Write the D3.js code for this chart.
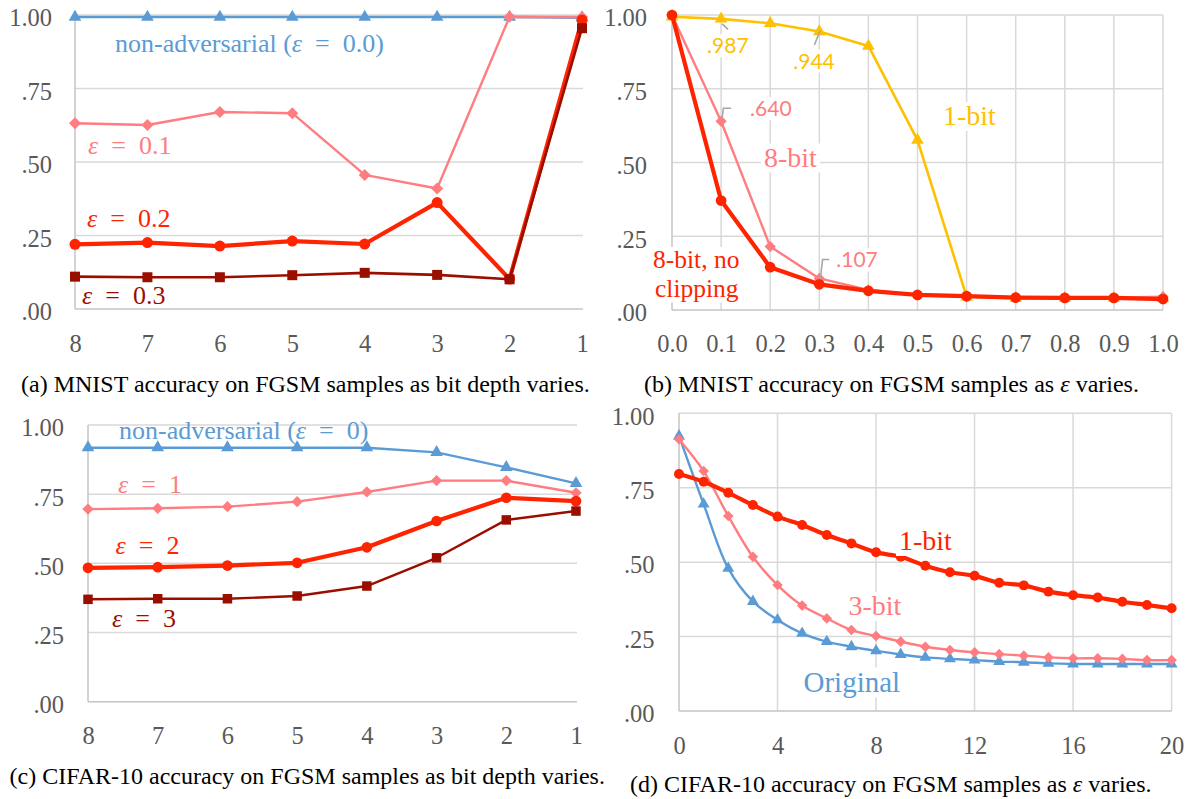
<!DOCTYPE html>
<html><head><meta charset="utf-8">
<script src="https://cdn.jsdelivr.net/npm/d3@7"></script>
<style>body{margin:0;background:#fff}svg{display:block}</style>
</head><body>
<svg id="chart" width="1188" height="799"></svg>
<script>
// ---------- DATA ----------
const bitDepths = [8, 7, 6, 5, 4, 3, 2, 1];
const yTickValues = [0, 0.25, 0.5, 0.75, 1];

// (a) MNIST, bit depth varies
const mnistBitNonAdv = [0.993, 0.993, 0.993, 0.993, 0.993, 0.993, 0.993, 0.991];
const mnistBitEps01  = [0.632, 0.626, 0.670, 0.666, 0.456, 0.410, 0.994, 0.993];
const mnistBitEps02  = [0.220, 0.226, 0.214, 0.231, 0.221, 0.362, 0.102, 0.983];
const mnistBitEps03  = [0.110, 0.108, 0.108, 0.115, 0.123, 0.116, 0.101, 0.955];

// (b) MNIST, epsilon varies
const mnistEps = [0.0, 0.1, 0.2, 0.3, 0.4, 0.5, 0.6, 0.7, 0.8, 0.9, 1.0];
const mnistEps1bit   = [0.994, 0.987, 0.972, 0.944, 0.895, 0.576, 0.045, 0.040, 0.040, 0.040, 0.040];
const mnistEps8bit   = [1.000, 0.640, 0.215, 0.107, 0.068, 0.050, 0.045, 0.043, 0.042, 0.042, 0.045];
const mnistEpsNoClip = [1.000, 0.371, 0.145, 0.087, 0.065, 0.051, 0.047, 0.042, 0.041, 0.041, 0.037];

// (c) CIFAR-10, bit depth varies
const cifarBitNonAdv = [0.918, 0.918, 0.918, 0.918, 0.918, 0.901, 0.847, 0.789];
const cifarBitEps1   = [0.696, 0.699, 0.705, 0.723, 0.758, 0.799, 0.799, 0.755];
const cifarBitEps2   = [0.484, 0.486, 0.492, 0.502, 0.558, 0.653, 0.737, 0.725];
const cifarBitEps3   = [0.370, 0.372, 0.372, 0.382, 0.418, 0.520, 0.657, 0.689];

// (d) CIFAR-10, epsilon varies
const cifarEps = [0,1,2,3,4,5,6,7,8,9,10,11,12,13,14,15,16,17,18,19,20];
const cifarEps1bit = [0.796,0.770,0.733,0.692,0.653,0.625,0.591,0.563,0.533,0.518,0.488,0.466,0.454,0.431,0.422,0.401,0.389,0.381,0.367,0.356,0.345];
const cifarEps3bit = [0.913,0.806,0.655,0.518,0.423,0.354,0.311,0.272,0.252,0.233,0.216,0.205,0.197,0.191,0.186,0.180,0.177,0.177,0.175,0.171,0.171];
const cifarEpsOrig = [0.924,0.695,0.479,0.368,0.306,0.261,0.233,0.216,0.202,0.190,0.180,0.175,0.171,0.166,0.164,0.160,0.158,0.158,0.158,0.158,0.158];

const mnistEpsTicks = mnistEps;
const cifarEpsTicks = [0, 4, 8, 12, 16, 20];

// ---------- STYLE ----------
const BLUE = "#5B9BD5", PINK = "#FF7C80", RED = "#FF2400", DARK = "#9A0E00", GOLD = "#FFC000";
const GRID = "#D9D9D9", AXIS = "#C4C4C4", TICK = "#595959";
const SERIF = "'Liberation Serif','Times New Roman',serif";
const SANS = "Lato,'Open Sans',sans-serif";
const EQ = "\u2002=\u2002";

const svg = d3.select("#chart");
const yFmt = d => d === 1 ? "1.00" : d3.format(".2f")(d).slice(1);

function symbolPath(kind, size) {
  const t = {tri: d3.symbolTriangle, circle: d3.symbolCircle, square: d3.symbolSquare, diamond: d3.symbolSquare}[kind];
  return d3.symbol(t, size)();
}

// lines: array of lines; each line is array of {t, i}
function addText(g, x, y, lines, o) {
  const t = g.append("text").attr("x", x).attr("y", y)
    .attr("font-family", o.family || SERIF).attr("font-size", o.size).attr("fill", o.fill);
  lines.forEach((parts, li) => {
    parts.forEach((p, pi) => {
      const s = t.append("tspan").text(p.t);
      if (pi === 0 && li > 0) s.attr("x", x + (o.lineDx || 0)).attr("dy", o.lineH);
      if (p.i) s.attr("font-style", "italic");
    });
  });
  if (o.bg) {
    const b = t.node().getBBox();
    g.insert("rect", () => t.node())
      .attr("x", b.x - 3).attr("y", b.y + 2).attr("width", b.width + 6).attr("height", b.height - 2)
      .attr("fill", "#fff");
  }
  return t;
}

function drawPanel(cfg) {
  const g = svg.append("g");
  const {x, y} = cfg;
  const xr = cfg.xPix;
  g.append("g").selectAll("line").data(yTickValues.filter(d => d > 0)).join("line")
    .attr("x1", xr[0]).attr("x2", xr[1]).attr("y1", d => y(d)).attr("y2", d => y(d))
    .attr("stroke", GRID).attr("stroke-width", 1.5);
  if (cfg.vTicks) {
    g.append("g").selectAll("line").data(cfg.vTicks.slice(1)).join("line")
      .attr("x1", d => x(d)).attr("x2", d => x(d)).attr("y1", y(0)).attr("y2", y(1))
      .attr("stroke", GRID).attr("stroke-width", 1.5);
  }
  g.append("line").attr("x1", xr[0]).attr("x2", xr[1]).attr("y1", y(0)).attr("y2", y(0))
    .attr("stroke", AXIS).attr("stroke-width", 1.5);
  g.append("line").attr("x1", xr[0]).attr("x2", xr[0]).attr("y1", y(0)).attr("y2", y(1))
    .attr("stroke", AXIS).attr("stroke-width", 1.5);

  const yg = g.append("g").attr("transform", `translate(${cfg.yLabelX},0)`)
    .call(d3.axisLeft(y).tickValues(yTickValues).tickFormat(yFmt).tickSize(0).tickPadding(0));
  yg.select(".domain").remove();
  yg.attr("font-family", SERIF).attr("font-size", 24.5);
  yg.selectAll("text").attr("fill", TICK).attr("dy", "0.32em").attr("y", 3);

  const xa = (cfg.vTicks ? d3.axisBottom(x).tickValues(cfg.xTickValues) : d3.axisBottom(x))
    .tickFormat(cfg.xFmt).tickSize(0).tickPadding(0);
  const xg = g.append("g").attr("transform", `translate(0,${cfg.xLabelY})`).call(xa);
  xg.select(".domain").remove();
  xg.attr("font-family", SERIF).attr("font-size", 24.5);
  xg.selectAll("text").attr("fill", TICK).attr("dy", 0).attr("y", 0);

  cfg.series.forEach(s => {
    const pts = cfg.xs.map((xv, i) => ({x: xv, v: s.values[i]}));
    const line = d3.line().x(d => x(d.x)).y(d => y(d.v));
    if (cfg.curve) line.curve(cfg.curve);
    g.append("path").datum(pts).attr("d", line).attr("fill", "none")
      .attr("stroke", s.color).attr("stroke-width", s.width).attr("stroke-linejoin", "round");
    g.append("g").selectAll("path").data(pts).join("path")
      .attr("d", symbolPath(s.marker, s.size))
      .attr("transform", d => `translate(${x(d.x)},${y(d.v)})` + (s.marker === "diamond" ? " rotate(45)" : ""))
      .attr("fill", s.color);
  });

  const lg = g.append("g");
  cfg.labels.forEach(l => addText(lg, l.x, l.y, l.lines, l));
  if (cfg.after) cfg.after(g, x, y);

  addText(g, cfg.caption.x, cfg.caption.y, [cfg.caption.parts], {size: 24, fill: "#000"});
}

// ---------- PANEL (a) ----------
{
  const x = d3.scalePoint().domain(bitDepths).range([75, 582]);
  const y = d3.scaleLinear().domain([0, 1]).range([309, 15]);
  drawPanel({
    x, y, xPix: [75, 583], xs: bitDepths, xFmt: d => d, yLabelX: 52, xLabelY: 351.5,
    series: [
      {values: mnistBitNonAdv, color: BLUE, width: 2.6, marker: "tri", size: 70},
      {values: mnistBitEps01, color: PINK, width: 2.4, marker: "diamond", size: 72},
      {values: mnistBitEps02, color: RED, width: 4.2, marker: "circle", size: 95},
      {values: mnistBitEps03, color: DARK, width: 2.6, marker: "square", size: 100}
    ],
    labels: [
      {x: 115, y: 52, size: 26, fill: BLUE, lines: [[{t: "non-adversarial ("}, {t: "ε", i: 1}, {t: EQ + "0.0)"}]]},
      {x: 88, y: 154, size: 26, fill: PINK, lines: [[{t: "ε", i: 1}, {t: EQ + "0.1"}]]},
      {x: 87, y: 226.5, size: 26, fill: RED, lines: [[{t: "ε", i: 1}, {t: EQ + "0.2"}]]},
      {x: 82, y: 304, size: 26, fill: DARK, lines: [[{t: "ε", i: 1}, {t: EQ + "0.3"}]]}
    ],
    caption: {x: 21, y: 391.5, parts: [{t: "(a) MNIST accuracy on FGSM samples as bit depth varies."}]}
  });
}

// ---------- PANEL (b) ----------
{
  const x = d3.scaleLinear().domain([0, 1]).range([672, 1163]);
  const y = d3.scaleLinear().domain([0, 1]).range([310, 15]);
  drawPanel({
    x, y, xPix: [672, 1163], xs: mnistEps, vTicks: mnistEpsTicks, xTickValues: mnistEpsTicks,
    xFmt: d3.format(".1f"), yLabelX: 647, xLabelY: 351.5,
    series: [
      {values: mnistEps1bit, color: GOLD, width: 2.6, marker: "tri", size: 70},
      {values: mnistEps8bit, color: PINK, width: 2.4, marker: "diamond", size: 64},
      {values: mnistEpsNoClip, color: RED, width: 4.2, marker: "circle", size: 90}
    ],
    labels: [
      {x: 943, y: 125, size: 28, fill: GOLD, bg: 1, lines: [[{t: "1-bit"}]]},
      {x: 764, y: 166.5, size: 28, fill: PINK, bg: 1, lines: [[{t: "8-bit"}]]},
      {x: 653, y: 268, size: 25.5, fill: RED, bg: 1, lineH: 28.5, lineDx: 2, lines: [[{t: "8-bit, no"}], [{t: "clipping"}]]}
    ],
    after: (g, x, y) => {
      const ann = [
        {xv: mnistEps[1], v: mnistEps1bit[1], color: GOLD, dx: -14, dy: 34.5, lead: [[1, 5], [7, 10.5]]},
        {xv: mnistEps[3], v: mnistEps1bit[3], color: GOLD, dx: -26, dy: 37, lead: [[1, -1], [-5, 13.5]]},
        {xv: mnistEps[1], v: mnistEps8bit[1], color: PINK, dx: 29, dy: -5, lead: [[1, -3], [2.3, -13], [10, -13]]},
        {xv: mnistEps[3], v: mnistEps8bit[3], color: PINK, dx: 17, dy: -11, lead: [[1, 1], [3.3, -19], [10, -19]]}
      ];
      ann.forEach(a => {
        const px = x(a.xv), py = y(a.v);
        g.append("path").attr("d", d3.line()(a.lead.map(p => [px + p[0], py + p[1]])))
          .attr("fill", "none").attr("stroke", "#A6A6A6").attr("stroke-width", 1.6);
        addText(g, px + a.dx, py + a.dy, [[{t: d3.format(".3f")(a.v).slice(1)}]],
          {size: 21, fill: a.color, family: SANS, bg: 1});
      });
    },
    caption: {x: 644, y: 391.5, parts: [{t: "(b) MNIST accuracy on FGSM samples as "}, {t: "ε", i: 1}, {t: " varies."}]}
  });
}

// ---------- PANEL (c) ----------
{
  const x = d3.scalePoint().domain(bitDepths).range([88, 576]);
  const y = d3.scaleLinear().domain([0, 1]).range([701.7, 425]);
  drawPanel({
    x, y, xPix: [88, 577], xs: bitDepths, xFmt: d => d, yLabelX: 64, xLabelY: 743.5,
    series: [
      {values: cifarBitNonAdv, color: BLUE, width: 2.4, marker: "tri", size: 70},
      {values: cifarBitEps1, color: PINK, width: 2.4, marker: "diamond", size: 64},
      {values: cifarBitEps2, color: RED, width: 4.2, marker: "circle", size: 90},
      {values: cifarBitEps3, color: DARK, width: 2.4, marker: "square", size: 90}
    ],
    labels: [
      {x: 119, y: 439, size: 26, fill: BLUE, lines: [[{t: "non-adversarial ("}, {t: "ε", i: 1}, {t: EQ + "0)"}]]},
      {x: 118, y: 492.5, size: 26, fill: PINK, lines: [[{t: "ε", i: 1}, {t: EQ + "1"}]]},
      {x: 115.5, y: 554, size: 26, fill: RED, lines: [[{t: "ε", i: 1}, {t: EQ + "2"}]]},
      {x: 112, y: 626.5, size: 26, fill: DARK, lines: [[{t: "ε", i: 1}, {t: EQ + "3"}]]}
    ],
    caption: {x: 9.5, y: 784, parts: [{t: "(c) CIFAR-10 accuracy on FGSM samples as bit depth varies."}]}
  });
}

// ---------- PANEL (d) ----------
{
  const x = d3.scaleLinear().domain([0, 20]).range([679, 1171.6]);
  const y = d3.scaleLinear().domain([0, 1]).range([711, 413.3]);
  drawPanel({
    x, y, xPix: [679, 1171.6], xs: cifarEps, vTicks: cifarEpsTicks, xTickValues: cifarEpsTicks,
    xFmt: d => d, yLabelX: 654.5, xLabelY: 754, curve: d3.curveCatmullRom,
    series: [
      {values: cifarEpsOrig, color: BLUE, width: 2.4, marker: "tri", size: 62},
      {values: cifarEps3bit, color: PINK, width: 2.4, marker: "diamond", size: 56},
      {values: cifarEps1bit, color: RED, width: 4.2, marker: "circle", size: 78}
    ],
    labels: [
      {x: 899, y: 550, size: 28, fill: RED, bg: 1, lines: [[{t: "1-bit"}]]},
      {x: 848.5, y: 615, size: 28, fill: PINK, bg: 1, lines: [[{t: "3-bit"}]]},
      {x: 803.5, y: 691.5, size: 29, fill: BLUE, bg: 1, lines: [[{t: "Original"}]]}
    ],
    caption: {x: 630, y: 791.5, parts: [{t: "(d) CIFAR-10 accuracy on FGSM samples as "}, {t: "ε", i: 1}, {t: " varies."}]}
  });
}
</script>
</body></html>
